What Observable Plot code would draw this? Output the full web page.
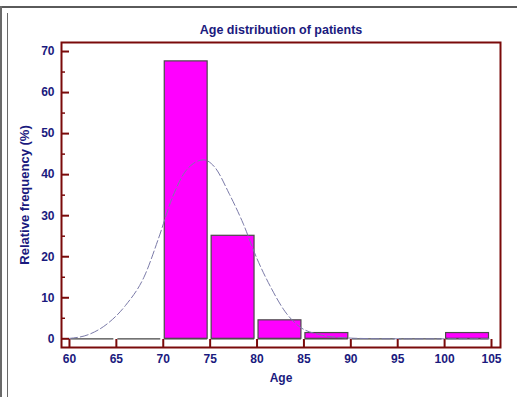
<!DOCTYPE html>
<html>
<head>
<meta charset="utf-8">
<script src="https://cdn.jsdelivr.net/npm/d3@7"></script>
<script src="https://cdn.jsdelivr.net/npm/@observablehq/plot@0.6"></script>
<style>
  html, body { margin: 0; padding: 0; background: #fff; }
  #wrap { position: relative; width: 517px; height: 397px; overflow: hidden; }
  #chart { position: absolute; left: 0; top: 0; }
  .deco { position: absolute; background: #5a5a5a; }
</style>
</head>
<body>
<div id="wrap">
  <div class="deco" style="left:0;top:6px;width:517px;height:2px;"></div>
  <div class="deco" style="left:0;top:6px;width:2px;height:391px;background:#6a6a6a;"></div>
  <div class="deco" style="left:7px;top:13px;width:1px;height:384px;background:#6a6a6a;"></div>
  <div id="chart"></div>
</div>
<script>
// Histogram bins (age, %)
const binStart = [60, 65, 70, 75, 80, 85, 90, 95, 100];
const binEnd   = [65, 70, 75, 80, 85, 90, 95, 100, 105];
const relFreq  = [0, 0, 67.6, 25.1, 4.5, 1.4, 0, 0, 1.4];

// Fitted normal curve
const curveAge  = [60, 62, 64, 66, 68, 69.5, 71, 72.5, 74.3, 75.5, 77, 78.5, 80, 81.5, 83, 84.5, 86.5, 89, 92, 96, 100, 105];
const curveFreq = [0.1, 1.0, 3.6, 8.2, 15.3, 24.5, 34.6, 41.2, 43.6, 41.8, 35.5, 28.2, 19.5, 12.4, 6.6, 3.0, 1.1, 0.3, 0.05, 0, 0, 0];

const xTicks = [60, 65, 70, 75, 80, 85, 90, 95, 100, 105];
const yTicks = [0, 10, 20, 30, 40, 50, 60, 70];
const yMinor = [5, 15, 25, 35, 45, 55, 65];

const bins = binStart.map((s, i) => ({x1: s, x2: binEnd[i], y: relFreq[i]}));
const filled = bins.filter(d => d.y > 0);
const curve = curveAge.map((a, i) => ({x: a, y: curveFreq[i]}));

const W = 517, H = 397;
const mL = 61, mR = 17, mT = 42, mB = 50;
const pw = W - mL - mR, ph = H - mT - mB;
const navy = "#1a1a7e";
const red = "#7a0a0a";
const font = "Liberation Sans, Arial, sans-serif";

const chart = Plot.plot({
  width: W, height: H,
  marginLeft: mL, marginRight: mR, marginTop: mT, marginBottom: mB,
  style: {fontFamily: font, fontSize: "12px", fontWeight: "bold", color: navy, background: "transparent"},
  x: {domain: [59.15, 105.96]},
  y: {domain: [-2.12, 72.2]},
  marks: [
    Plot.ruleY(bins, {y: 0, x1: "x1", x2: "x2", insetLeft: 1.5, insetRight: 2.5, stroke: "#444", strokeWidth: 1.2}),
    Plot.rectY(filled, {x1: "x1", x2: "x2", y1: 0, y2: "y", insetLeft: 1.5, insetRight: 2.5, fill: "#ff00ff", stroke: "#4a4a4a", strokeWidth: 1.2}),
    Plot.line(curve, {x: "x", y: "y", curve: "monotone-x", stroke: "#7a7aa8", strokeWidth: 1, strokeDasharray: "8,3"}),
    Plot.tickY(yTicks, {y: d => d, insetRight: pw - 8, stroke: red, strokeWidth: 2}),
    Plot.tickY(yMinor, {y: d => d, insetRight: pw - 4, stroke: red, strokeWidth: 1.5}),
    Plot.tickX(xTicks, {x: d => d, insetTop: ph - 8, stroke: red, strokeWidth: 2}),
    Plot.axisY({ticks: yTicks, tickSize: 0, tickPadding: 7, label: null, fill: navy, fontSize: 12, fontWeight: "bold"}),
    Plot.axisX({ticks: xTicks, tickSize: 0, tickPadding: 7, label: null, fill: navy, fontSize: 12, fontWeight: "bold"}),
    Plot.frame({stroke: red, strokeWidth: 2}),
    Plot.text(["Age distribution of patients"], {frameAnchor: "top", dy: -12.5, lineAnchor: "middle", fill: navy, fontSize: 12.5, fontWeight: "bold"}),
    Plot.text(["Age"], {frameAnchor: "bottom", dy: 31, lineAnchor: "middle", fill: navy, fontSize: 12, fontWeight: "bold"}),
    Plot.text(["Relative frequency (%)"], {frameAnchor: "left", dx: -37, rotate: -90, textAnchor: "middle", lineAnchor: "middle", fill: navy, fontSize: 13, fontWeight: "bold"})
  ]
});
document.getElementById("chart").appendChild(chart);
</script>
</body>
</html>
